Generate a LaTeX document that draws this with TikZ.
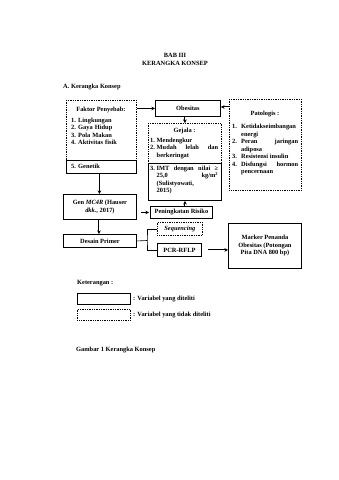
\documentclass[tikz,border=0pt]{standalone}
\usepackage{fontspec}
\setmainfont{Liberation Serif}
\usetikzlibrary{arrows.meta}
\newcommand\fs{\fontsize{6.4}{7.5}\selectfont\bfseries\hyphenpenalty=10000\exhyphenpenalty=10000\hbadness=10000}
\newcommand\itm[1]{\hangindent=#1\hangafter=1\noindent\makebox[#1][l]}
\tikzset{
  solidbox/.style={draw, line width=0.9pt, inner sep=0pt, anchor=north west},
  dotbox/.style={draw, densely dotted, line width=0.75pt, inner sep=0pt, anchor=north west},
  txt/.style={inner sep=0pt, font=\fs},
  listtxt/.style={inner sep=0pt, font=\fs, anchor=north west, align=justify},
  arr/.style={-{Stealth[length=3.6pt,width=3.6pt]}, line width=1pt},
  conn/.style={line width=0.6pt},
}
\begin{document}
\begin{tikzpicture}[x=1pt,y=-1pt]
\fill[white] (0,0) rectangle (339,480);
\useasboundingbox (0,0) rectangle (339,480);

% titles
\node[txt] (bab) at (175,55) {BAB III};
\node[txt] (kk) at (175,63.5) {KERANGKA KONSEP};
\node[txt, anchor=west] (sec) at (63,87) {A. Kerangka Konsep};

% boxes
\node[dotbox, minimum width=70pt, minimum height=60pt] (faktorA) at (66,100) {};
\node[solidbox, minimum width=70pt, minimum height=13pt] (faktorB) at (66,160) {};
\node[solidbox, minimum width=65pt, minimum height=16pt] (obes) at (155,100) {};
\node[dotbox, minimum width=73pt, minimum height=40pt] (gejala) at (148,123) {};
\node[solidbox, minimum width=73pt, minimum height=37pt] (imt) at (148,163) {};
\node[dotbox, minimum width=72pt, minimum height=91pt] (pato) at (229,99) {};
\node[solidbox, minimum width=73pt, minimum height=25pt] (gen) at (63,194) {};
\node[solidbox, minimum width=62pt, minimum height=12pt] (pen) at (150,206) {};
\node[dotbox, minimum width=45pt, minimum height=13pt] (seq) at (157,222) {};
\node[solidbox, minimum width=73pt, minimum height=13pt] (desain) at (63,234) {};
\node[solidbox, minimum width=44pt, minimum height=13pt] (pcr) at (157,243) {};
\node[solidbox, minimum width=73pt, minimum height=45pt] (marker) at (228,223) {};

% texts in boxes
\node[txt] (faktorT) at (101,110) {Faktor Penyebab:};
\node[listtxt, text width=60pt, align=left] (faktorL) at (71,117.5) {%
\makebox[7pt][l]{1.}Lingkungan\\
\makebox[7pt][l]{2.}Gaya Hidup\\
\makebox[7pt][l]{3.}Pola Makan\\
\makebox[7pt][l]{4.}Aktivitas fisik};
\node[txt, anchor=west] (genetik) at (71,166.5) {\makebox[7pt][l]{5.}Genetik};
\node[txt] (obesT) at (obes.center) {Obesitas};
\node[txt] (gejalaT) at (184.5,130.5) {Gejala :};
\node[listtxt, text width=68pt] (gejalaL) at (150,137.5) {%
\itm{6.5pt}{1.}Mendengkur\par
\itm{6.5pt}{2.}Mudah lelah dan\linebreak berkeringat\par};
\node[listtxt, text width=68pt] (imtL) at (150,165.5) {%
\itm{6.5pt}{3.}IMT dengan nilai ≥\linebreak 25,0 kg/m\textsuperscript{2}\linebreak (Sulistyowati,\newline 2015)\par};
\node[txt] (patoT) at (265,114) {Patologis :};
\node[listtxt, text width=66pt] (patoL) at (232,124) {%
\itm{9pt}{1.}Ketidakseimbangan\newline energi\par
\itm{9pt}{2.}Peran jaringan\linebreak adiposa\par
\itm{9pt}{3.}Resistensi insulin\par
\itm{9pt}{4.}Disfungsi hormon\linebreak pencernaan\par};
\node[txt, align=center] (genT) at (gen.center) {Gen \textit{MC4R} (Hauser\\\textit{dkk.}, 2017)};
\node[txt] (penT) at (pen.center) {Peningkatan Risiko};
\node[txt] (seqT) at (seq.center) {\textit{Sequencing}};
\node[txt] (desainT) at (desain.center) {Desain Primer};
\node[txt] (pcrT) at (pcr.center) {PCR-RFLP};
\node[txt, align=center] (markerT) at (marker.center) {Marker Penanda\\Obesitas (Potongan\\Pita DNA 800 bp)};

% connectors
\draw[arr] (obes.west -| faktorA.east) -- (obes.west);
\draw[arr] ([yshift=1.5pt]obes.east -| pato.west) -- ([yshift=1.5pt]obes.east);
\draw[arr] (gejala.north |- obes.south) -- (gejala.north);
\draw[arr] ([xshift=-2pt]faktorB.south) -- ([xshift=-2pt]faktorB.south |- gen.north);
\draw[arr] ([xshift=-1pt]gen.south) -- ([xshift=-1pt]gen.south |- desain.north);
\draw[arr] ([xshift=4pt]gen.east |- pen.west) -- ([xshift=-1pt]pen.west);
\draw[arr] (imt.south |- pen.north) -- (imt.south);
\coordinate (brk) at (147,240.5);
\draw[conn] (desain.east) -- (brk);
\draw[conn] (seq.west) -| (brk) |- (pcr.west);
\draw[arr] ([xshift=6pt]pcr.east) -- (marker.west |- pcr.east);

% legend
\node[txt, anchor=west] (ket) at (77,283) {Keterangan :};
\node[solidbox, line width=1.1pt, minimum width=53pt, minimum height=11pt] (legS) at (77,293) {};
\node[dotbox, minimum width=53pt, minimum height=11pt] (legD) at (77,309) {};
\node[txt, anchor=west] (legST) at (133,298.5) {: Variabel yang diteliti};
\node[txt, anchor=west] (legDT) at (133,314.5) {: Variabel yang tidak diteliti};

\node[txt, anchor=west] (gambar) at (76,350) {Gambar 1 Kerangka Konsep};
\end{tikzpicture}
\end{document}
